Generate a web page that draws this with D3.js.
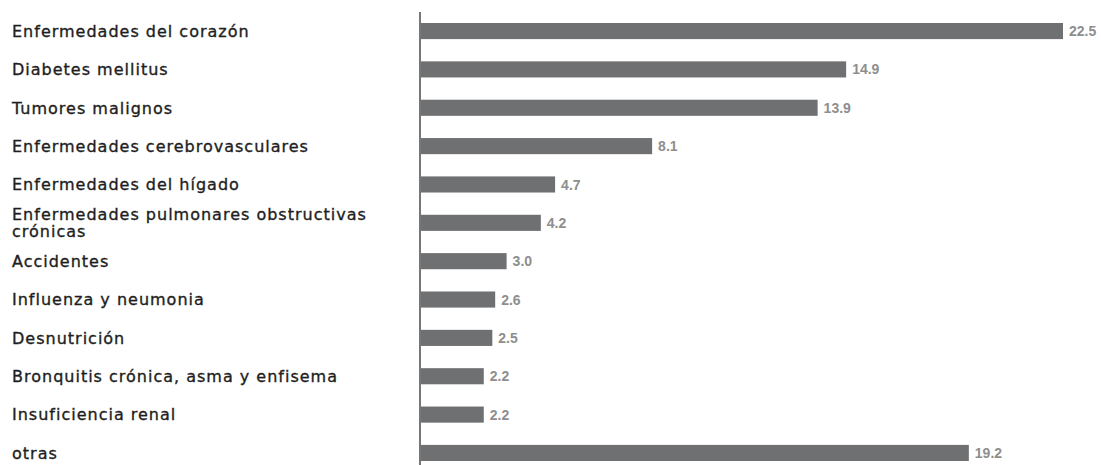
<!DOCTYPE html>
<html>
<head>
<meta charset="utf-8">
<script src="https://cdn.jsdelivr.net/npm/d3@7"></script>
<style>
  body { margin: 0; background: #fff; }
</style>
</head>
<body>
<svg id="main-svg"></svg>
<script>
const svg = d3.select("#main-svg");

// data
const causes = [
  "Enfermedades del corazón",
  "Diabetes mellitus",
  "Tumores malignos",
  "Enfermedades cerebrovasculares",
  "Enfermedades del hígado",
  "Enfermedades pulmonares obstructivas\ncrónicas",
  "Accidentes",
  "Influenza y neumonia",
  "Desnutrición",
  "Bronquitis crónica, asma y enfisema",
  "Insuficiencia renal",
  "otras"
];
const percents = [22.5, 14.9, 13.9, 8.1, 4.7, 4.2, 3.0, 2.6, 2.5, 2.2, 2.2, 19.2];
const percentLabels = ["22.5", "14.9", "13.9", "8.1", "4.7", "4.2", "3.0", "2.6", "2.5", "2.2", "2.2", "19.2"];

// FIXED
CANVAS_WIDTH = 1101
CANVAS_HEIGHT = 465
AXIS_X = 421
BARS_RIGHT = 1063
BARS_TOP = 23
BARS_BOTTOM = 461
LABEL_X = 12
BAR_COLOR = "#6f7072"

svg
  .attr("width", CANVAS_WIDTH)
  .attr("height", CANVAS_HEIGHT);

const x = d3.scaleLinear()
  .domain([0, d3.max(percents)])
  .range([AXIS_X, BARS_RIGHT]);

const y = d3.scaleBand()
  .domain(causes)
  .range([BARS_TOP, BARS_BOTTOM])
  .paddingInner(0.58)
  .paddingOuter(0);

const rows = causes.map((c, i) => ({ cause: c, value: percents[i], label: percentLabels[i] }));

// bars
svg.append("g")
  .selectAll("rect")
  .data(rows)
  .join("rect")
  .attr("x", x(0))
  .attr("y", d => y(d.cause))
  .attr("width", d => x(d.value) - x(0))
  .attr("height", y.bandwidth())
  .attr("fill", BAR_COLOR);

// value labels
svg.append("g")
  .selectAll("text")
  .data(rows)
  .join("text")
  .attr("x", d => x(d.value) + 6)
  .attr("y", d => y(d.cause) + y.bandwidth() / 2)
  .attr("dy", "0.36em")
  .attr("font-family", "'Liberation Sans Narrow', 'Liberation Sans', sans-serif")
  .attr("font-size", 14)
  .attr("font-weight", "bold")
  .attr("fill", "#8e8e8e")
  .text(d => d.label);

// vertical axis line, no ticks
const axis = d3.axisLeft(y).tickSize(0).tickSizeOuter(0).tickFormat("");
const axisG = svg.append("g")
  .attr("transform", `translate(${AXIS_X - 1},0)`)
  .call(axis);
axisG.select(".domain")
  .attr("d", `M0,12V${CANVAS_HEIGHT}`)
  .attr("stroke", "#555")
  .attr("stroke-width", 1.6);

// category labels
const catLabels = svg.append("g")
  .selectAll("text")
  .data(rows)
  .join("text")
  .attr("x", LABEL_X)
  .attr("y", d => y(d.cause) + y.bandwidth() / 2)
  .attr("font-family", "'DejaVu Sans', sans-serif")
  .attr("font-size", 16)
  .attr("letter-spacing", 1.0)
  .attr("fill", "#1e1e1e")
  .attr("stroke", "#1e1e1e")
  .attr("stroke-width", 0.35);

catLabels.each(function(d) {
  const lines = d.cause.split("\n");
  const t = d3.select(this);
  const lineH = 17;
  const start = -(lines.length - 1) * lineH / 2;
  lines.forEach((line, i) => {
    t.append("tspan")
      .attr("x", LABEL_X)
      .attr("dy", i === 0 ? (start + 5.8) : lineH)
      .text(line);
  });
});
</script>
</body>
</html>
